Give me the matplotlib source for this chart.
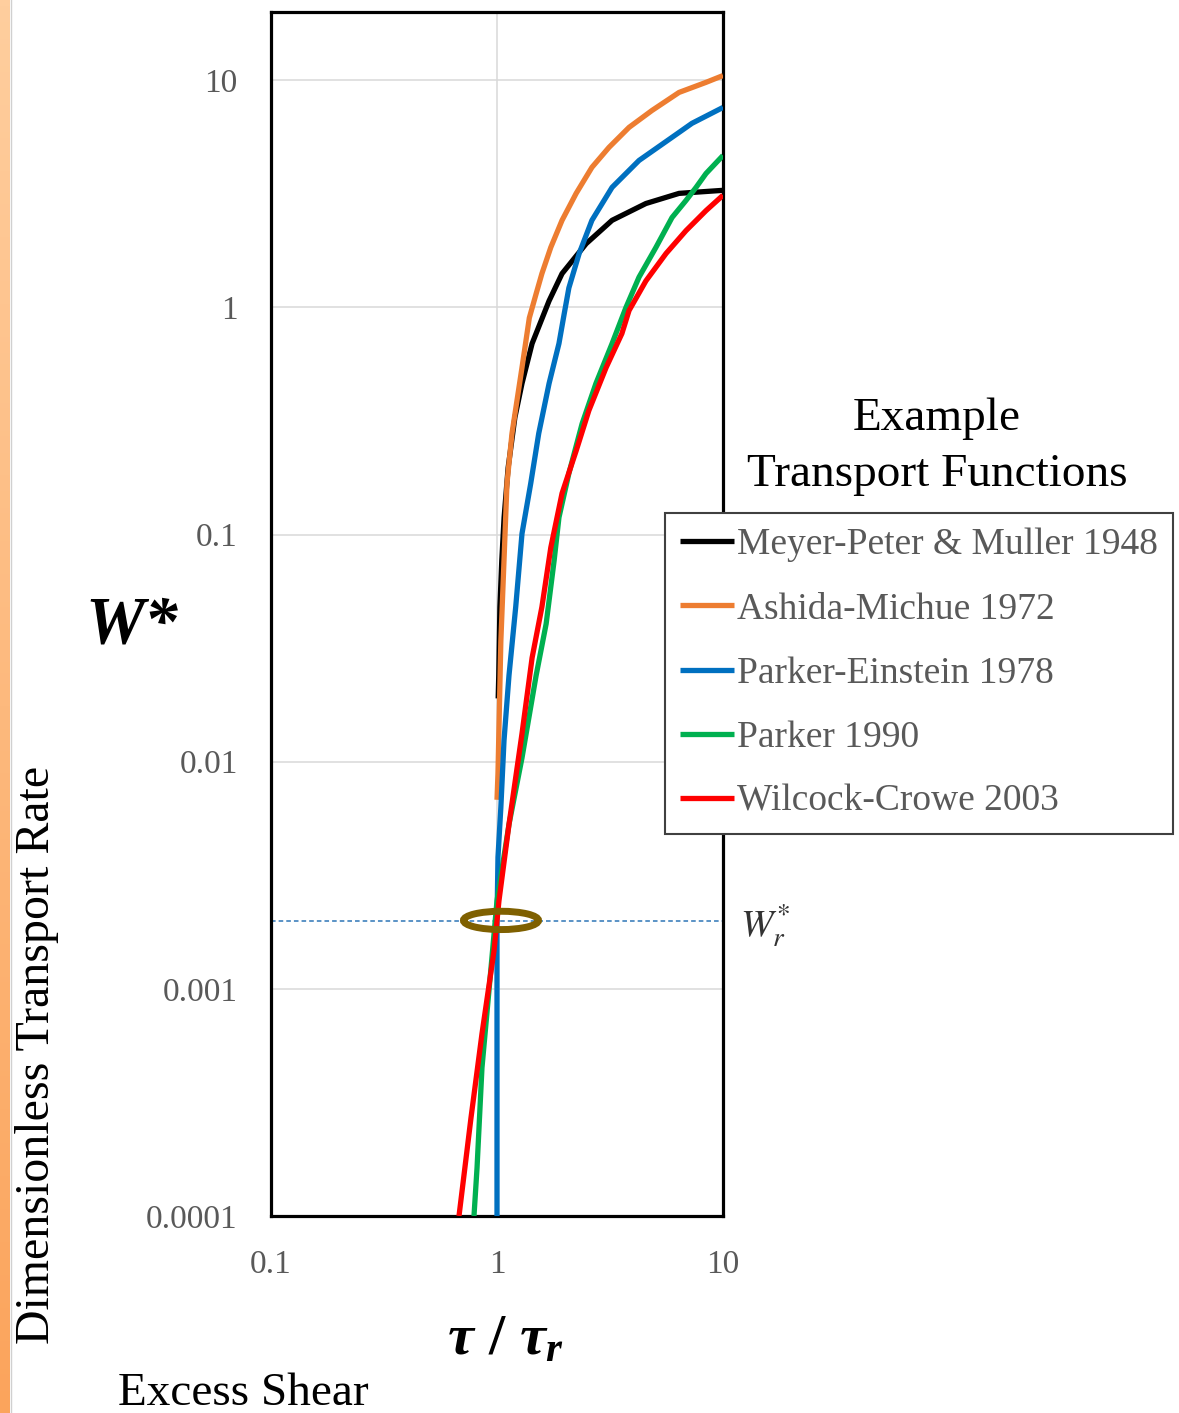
import numpy as np
import matplotlib
matplotlib.use("Agg")
import matplotlib.pyplot as plt
from matplotlib.patches import Ellipse
from matplotlib.lines import Line2D

# ==========================================
# Data
# ==========================================

mpm_x = [1.012, 1.018, 1.03, 1.05, 1.075, 1.12, 1.20, 1.29, 1.43, 1.70, 1.94, 2.48, 3.23, 4.56, 6.39, 7.29, 10.0]
mpm_y = [0.019, 0.024, 0.048, 0.077, 0.119, 0.197, 0.328, 0.463, 0.694, 1.07, 1.41, 1.91, 2.42, 2.87, 3.18, 3.21, 3.28]

am_x = [1.0, 1.01, 1.04, 1.074, 1.107, 1.165, 1.29, 1.39, 1.49, 1.58, 1.73, 1.94, 2.24, 2.63, 3.13, 3.84, 4.85, 6.39, 8.41, 10.0]
am_y = [0.0068, 0.0089, 0.034, 0.077, 0.168, 0.279, 0.544, 0.90, 1.15, 1.41, 1.84, 2.42, 3.18, 4.14, 5.07, 6.21, 7.37, 8.85, 9.8, 10.5]

pe_x = [1.0, 1.0, 1.01, 1.04, 1.074, 1.13, 1.21, 1.29, 1.41, 1.53, 1.70, 1.88, 1.98, 2.08, 2.31, 2.63, 3.23, 4.25, 6.39, 7.29, 10.0]
pe_y = [0.0001, 0.002, 0.0038, 0.0063, 0.0124, 0.024, 0.048, 0.101, 0.168, 0.279, 0.463, 0.694, 0.93, 1.22, 1.73, 2.42, 3.38, 4.44, 5.90, 6.47, 7.60]

p90_x = [0.791, 0.816, 0.858, 0.941, 1.0, 1.13, 1.29, 1.49, 1.65, 1.79, 1.88, 2.08, 2.38, 2.74, 3.23, 3.72, 4.25, 5.05, 5.95, 6.86, 7.6, 8.41, 10.0]
p90_y = [0.0001, 0.000163, 0.000449, 0.00124, 0.00244, 0.0053, 0.0104, 0.024, 0.0405, 0.077, 0.119, 0.186, 0.308, 0.463, 0.694, 1.0, 1.36, 1.84, 2.49, 2.96, 3.38, 3.89, 4.67]

wc_x = [0.679, 0.767, 0.858, 0.97, 1.02, 1.13, 1.29, 1.43, 1.58, 1.73, 1.94, 2.24, 2.55, 3.04, 3.57, 3.84, 4.56, 5.60, 6.86, 8.41, 10.0]
wc_y = [0.0001, 0.00027, 0.000634, 0.00147, 0.00244, 0.0053, 0.0133, 0.0287, 0.048, 0.0877, 0.152, 0.234, 0.352, 0.544, 0.768, 0.97, 1.31, 1.73, 2.18, 2.67, 3.12]

labels = [
    "Meyer-Peter & Muller 1948",
    "Ashida-Michue 1972",
    "Parker-Einstein 1978",
    "Parker 1990",
    "Wilcock-Crowe 2003",
]
colors = ["#000000", "#ED7D31", "#0070C0", "#00B050", "#FF0000"]

w_ref = 0.002

x_ticks = [0.1, 1, 10]
x_tick_labels = ["0.1", "1", "10"]
y_ticks = [0.0001, 0.001, 0.01, 0.1, 1, 10]
y_tick_labels = ["0.0001", "0.001", "0.01", "0.1", "1", "10"]

# ==========================================
# Style
# ==========================================

plt.rcParams["font.family"] = ["Liberation Serif", "DejaVu Serif"]
plt.rcParams["mathtext.fontset"] = "custom"
plt.rcParams["mathtext.rm"] = "Liberation Serif:bold"
plt.rcParams["mathtext.it"] = "Liberation Serif:italic:bold"
plt.rcParams["mathtext.bf"] = "Liberation Serif:bold"

W, H = 1179, 1413
fig = plt.figure(figsize=(W / 100, H / 100), dpi=100)

# orange strip at left edge
strip = fig.add_axes([0, 0, 10 / W, 1])
grad = np.linspace(0, 1, 256)[:, None]
top = np.array([255, 206, 158]) / 255
bot = np.array([251, 164, 92]) / 255
img = top[None, None, :] * (1 - grad[:, :, None]) + bot[None, None, :] * grad[:, :, None]
strip.imshow(img, aspect="auto", extent=[0, 1, 0, 1])
strip.axis("off")
fig.add_artist(Line2D([10.5 / W, 10.5 / W], [0, 1], color="#D0D0D0", lw=1.0))

# ==========================================
# Main axes
# ==========================================

ax = fig.add_axes([271 / W, 1 - 1216 / H, (723 - 271) / W, (1216 - 12) / H])

series = [(mpm_x, mpm_y), (am_x, am_y), (pe_x, pe_y), (p90_x, p90_y), (wc_x, wc_y)]
handles = []
for (xs, ys), c, lab in zip(series, colors, labels):
    (h,) = ax.plot(xs, ys, color=c, lw=3.8, label=lab, solid_joinstyle="round",
                   solid_capstyle="butt", zorder=3)
    handles.append(h)

ax.axhline(w_ref, color="#2E75B6", lw=1.1, ls=(0, (3, 2)), zorder=2)

ell = Ellipse((0.5088, 0.2455), 0.166, 0.0152, transform=ax.transAxes,
              fill=False, ec="#7F6000", lw=5.0, zorder=6, clip_on=False)
ax.add_patch(ell)

ax.set_xscale("log")
ax.set_yscale("log")
ax.set_xlim(0.1, 10)
ax.set_ylim(0.0001, 20)

ax.set_xticks(x_ticks)
ax.set_xticklabels(x_tick_labels)
ax.set_yticks(y_ticks)
ax.set_yticklabels(y_tick_labels)
ax.minorticks_off()
ax.tick_params(length=0, labelsize=24, labelcolor="#595959", pad=24)

ax.grid(True, which="major", color="#D9D9D9", lw=1.1, zorder=0)
ax.set_axisbelow(True)

for s in ax.spines.values():
    s.set_linewidth(2.3)
    s.set_color("black")

leg = ax.legend(
    handles=handles,
    loc="upper left",
    bbox_to_anchor=(665 / W, 1 - 513 / H),
    bbox_transform=fig.transFigure,
    fontsize=27,
    frameon=True,
    fancybox=False,
    framealpha=1,
    edgecolor="#404040",
    borderpad=0.4,
    handlelength=1.45,
    handletextpad=0.08,
    labelspacing=0.79,
    borderaxespad=0,
    labelcolor="#595959",
)
leg.get_frame().set_linewidth(1.5)
leg.set_zorder(10)

# ==========================================
# Text
# ==========================================

fig.text(85 / W, 1 - 643 / H, "W*", fontsize=48, fontweight="bold",
         fontstyle="italic", va="baseline", ha="left")

fig.text(37 / W, 1 - 1055 / H, "Dimensionless Transport Rate", rotation=90,
         ha="center", va="center", fontsize=34.5)

fig.text(505 / W, 1 - 1340 / H, r"$\tau\ /\ \tau_{r}$", fontsize=42,
         ha="center", va="center")

fig.text(118 / W, 1 - 1405 / H, "Excess Shear", fontsize=34, va="baseline")

fig.text(937 / W, 1 - 430 / H, "Example", fontsize=34, ha="center", va="baseline")
fig.text(937 / W, 1 - 486 / H, "Transport Functions", fontsize=34, ha="center", va="baseline")

fig.text(740 / W, 1 - 937 / H, r"$W_r^{*}$", fontsize=28, math_fontfamily="stix",
         color="#333333", va="baseline", ha="left")

fig.savefig("out.png", dpi=100)
